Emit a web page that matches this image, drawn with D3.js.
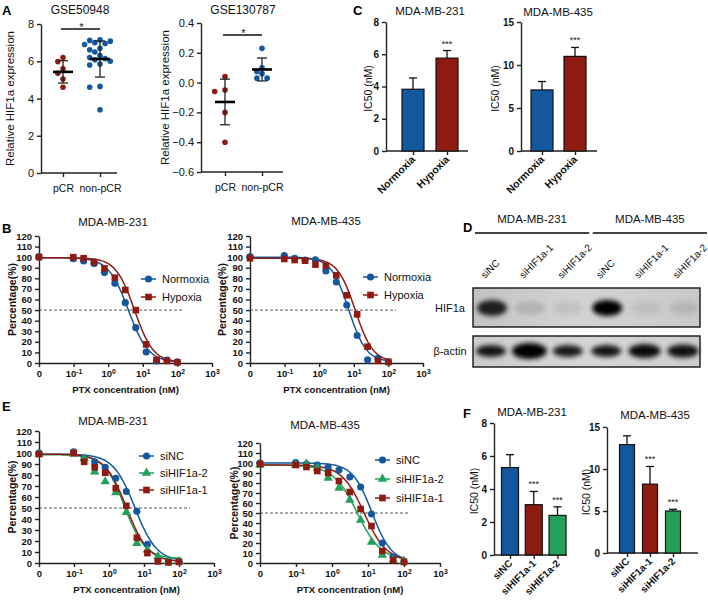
<!DOCTYPE html>
<html><head><meta charset="utf-8">
<script src="https://cdn.jsdelivr.net/npm/d3@7"></script>
<style>body{margin:0;background:#fff;}svg{display:block;}</style>
</head><body><script>
// ================= DATA =================
// Panel A
const groupsA = ["pCR", "non-pCR"];
const gse50948_pCR = [6.2, 5.98, 5.6, 5.35, 5.05, 4.6];
const gse50948_nonpCR = [7.15, 7.12, 7.08, 7.0, 6.95, 6.9, 6.7, 6.62, 6.5, 6.3, 6.2, 6.15, 6.08, 6.0, 5.85, 5.8, 4.65, 4.6, 3.4];
const gse50948_mean = [5.43, 6.12];
const gse50948_sd = [0.6, 0.97];
const gse130787_pCR = [0.04, -0.05, -0.06, -0.2, -0.4];
const gse130787_nonpCR = [0.23, 0.10, 0.075, 0.06, 0.03, 0.03];
const gse130787_mean = [-0.13, 0.088];
const gse130787_sd = [0.153, 0.077];
const ticksA1 = [0, 2, 4, 6, 8];
const ticksA2 = [-0.6, -0.4, -0.2, 0, 0.2, 0.4];

// Panel C
const conditionsC = ["Normoxia", "Hypoxia"];
const ic50_231_C = [3.83, 5.76];
const err_231_C = [0.7, 0.47];
const ic50_435_C = [7.1, 11.0];
const err_435_C = [0.98, 1.04];
const sigC = ["", "***"];
const ticksC231 = [0, 2, 4, 6, 8];
const ticksC435 = [0, 5, 10, 15];

// Panels B, E (dose response, % viability)
const ptxConc = [0, 0.098, 0.195, 0.39, 0.78, 1.56, 3.125, 6.25, 12.5, 25, 50, 100];
const logTicks = [0.01, 0.1, 1, 10, 100, 1000];
const pctTicks = [0, 10, 20, 30, 40, 50, 60, 70, 80, 90, 100, 110, 120];
const b231_normoxia = [100.5, 98.5, 96.4, 93.9, 85.4, 75.3, 57, 33.4, 10.4, 2, 2.8, 1];
const b231_hypoxia  = [100, 100, 99, 95.4, 89.4, 80.6, 69, 50, 17.6, 3, 2, 0.6];
const b435_normoxia = [100.5, 101.5, 98.9, 97.3, 97.5, 87, 76.5, 54.8, 26, 3, 4.4, 1];
const b435_hypoxia  = [99, 98.3, 97.3, 96.7, 93, 92, 82.8, 64, 46, 15.4, 2, 1];
const e231_siNC   = [100, 101, 95, 92, 87, 77, 65, 47, 17, 3, 1.5, 1.5];
const e231_siHIF2 = [99, 99, 95, 83, 74, 64, 46, 18, 12, 6, 1.5, 1.5];
const e231_siHIF1 = [99, 100, 92, 87, 82, 68, 52, 23, 9, 1.5, 0.5, 1];
const e435_siNC   = [100, 100.5, 99, 98, 96, 93, 86, 76, 49, 20, 6, 1];
const e435_siHIF1 = [99, 98, 96, 92, 90, 82, 71, 54, 37, 12, 3, 1];
const e435_siHIF2 = [98, 98, 99, 95, 85, 75, 63, 43, 21, 8, 3, 2];
// nonlinear fit parameters: [top, bottom, IC50 (nM), Hill slope]
const fit_b231_normoxia = [99.5, 0.5, 3.83, 1.5];
const fit_b231_hypoxia  = [99.5, 0.5, 5.76, 1.6];
const fit_b435_normoxia = [100, 1, 7.1, 1.7];
const fit_b435_hypoxia  = [99, 1, 11.0, 1.7];
const fit_e231_siNC   = [99, 1.5, 5.5, 1.4];
const fit_e231_siHIF2 = [98.5, 4, 2.8, 1.5];
const fit_e231_siHIF1 = [99, 1, 3.2, 1.4];
const fit_e435_siNC   = [100, 1, 12.9, 1.6];
const fit_e435_siHIF1 = [98, 2, 7.8, 1.4];
const fit_e435_siHIF2 = [98, 2.5, 5.0, 1.3];

// Panel D (western blot)
const cellLinesD = ["MDA-MB-231", "MDA-MB-435"];
const lanesD = ["siNC", "siHIF1a-1", "siHIF1a-2", "siNC", "siHIF1a-1", "siHIF1a-2"];
const hifIntensity = [0.85, 0.12, 0.08, 1.0, 0.07, 0.1];
const actinIntensity = [0.9, 1.0, 0.88, 0.9, 0.95, 0.92];
const actinThickness = [1.0, 1.35, 1.0, 1.0, 1.15, 1.1];

// Panel F
const groupsF = ["siNC", "siHIF1a-1", "siHIF1a-2"];
const ic50_231_F = [5.3, 3.05, 2.4];
const err_231_F = [0.78, 0.8, 0.52];
const ic50_435_F = [12.9, 8.2, 5.0];
const err_435_F = [1.05, 2.1, 0.2];
const sigF = ["", "***", "***"];

// ================= STYLE =================
const FONT = '"Liberation Sans", Arial, Helvetica, sans-serif';
const BLUE = "#13589c", RED = "#8e1b12", GREEN = "#23a05a", AX = "#222";

const svg = d3.select("body").append("svg")
  .attr("width", 708).attr("height", 601)
  .attr("font-family", FONT);

function styleAxis(g, opt) {
  const o = Object.assign({bold: false, size: 10}, opt || {});
  g.select(".domain").attr("stroke", AX).attr("stroke-width", 1.4);
  g.selectAll(".tick line").attr("stroke", AX).attr("stroke-width", 1.4);
  g.selectAll(".tick text").attr("fill", "#111").attr("font-size", o.size)
    .attr("font-weight", o.bold ? "bold" : "normal").attr("font-family", FONT);
}
function text(g, x, y, s, o) {
  o = o || {};
  const t = g.append("text").attr("x", x).attr("y", y).text(s)
    .attr("font-size", o.size || 11).attr("fill", o.fill || "#111")
    .attr("text-anchor", o.anchor || "middle")
    .attr("font-weight", o.bold ? "bold" : "normal");
  if (o.rotate !== undefined) t.attr("transform", `rotate(${o.rotate},${x},${y})`);
  return t;
}
function panelLetter(x, y, s) { text(svg, x, y, s, {size: 13, bold: true, anchor: "start", fill: "#000"}); }

// ================= PANEL A (scatter) =================
function swarm(values, y, cx, d) {
  const placed = [];
  const order = [0, -1, 1, -2, 2, -3, 3, -4, 4];
  return values.map(v => {
    const py = y(v);
    for (const k of order) {
      const px = cx + k * d * 0.92;
      if (placed.every(p => Math.hypot(p[0] - px, p[1] - py) >= d)) { placed.push([px, py]); return [px, py]; }
    }
    placed.push([cx, py]); return [cx, py];
  });
}
function scatterPanel(o) {
  const g = svg.append("g");
  const y = d3.scaleLinear().domain(o.ydom).range([o.yb, o.yt]);
  const x = d3.scalePoint().domain(groupsA).range([o.c0, o.c1]);
  g.append("g").attr("transform", `translate(${o.ax},0)`)
    .call(d3.axisLeft(y).tickValues(o.ticks).tickFormat(o.fmt).tickSize(4).tickSizeOuter(0))
    .call(styleAxis, {size: 11});
  const xa = g.append("g").attr("transform", `translate(0,${o.yb})`)
    .call(d3.axisBottom(x).tickSize(4).tickSizeOuter(0)).call(styleAxis, {size: 10.5});
  xa.select(".domain").remove();
  xa.selectAll(".tick text").attr("dy", "1.1em");
  g.append("line").attr("x1", o.ax).attr("x2", o.xEnd).attr("y1", o.yb).attr("y2", o.yb)
    .attr("stroke", AX).attr("stroke-width", 1.4);
  const cols = [RED, BLUE];
  o.sets.forEach((vals, gi) => {
    const cx = x(groupsA[gi]);
    const pts = swarm(vals, y, cx, 5.6);
    g.selectAll(null).data(pts).join("circle")
      .attr("cx", p => p[0]).attr("cy", p => p[1]).attr("r", 2.8).attr("fill", cols[gi]);
    const m = o.mean[gi], s = o.sd[gi];
    g.append("line").attr("x1", cx).attr("x2", cx).attr("y1", y(m - s)).attr("y2", y(m + s)).attr("stroke", "#222").attr("stroke-width", 1.3);
    [m - s, m + s].forEach(v => g.append("line").attr("x1", cx - 5).attr("x2", cx + 5).attr("y1", y(v)).attr("y2", y(v)).attr("stroke", "#222").attr("stroke-width", 1.3));
    g.append("line").attr("x1", cx - 10).attr("x2", cx + 10).attr("y1", y(m)).attr("y2", y(m)).attr("stroke", "#000").attr("stroke-width", 2.6);
  });
  g.append("line").attr("x1", x(groupsA[0]) - 2).attr("x2", x(groupsA[1])).attr("y1", o.sigY).attr("y2", o.sigY).attr("stroke", "#111").attr("stroke-width", 1.3);
  text(g, (x(groupsA[0]) + x(groupsA[1])) / 2, o.sigY + 2, "*", {size: 11});
  text(g, o.titleX, 14, o.title, {size: 12});
  text(g, o.labX, (o.yb + o.yt) / 2, "Relative HIF1a expression", {size: 11.5, rotate: -90});
}
scatterPanel({ax: 41, xEnd: 117, c0: 63, c1: 100, yb: 173, yt: 24, ydom: [0, 8], ticks: ticksA1, fmt: d3.format("d"),
  sets: [gse50948_pCR, gse50948_nonpCR], mean: gse50948_mean, sd: gse50948_sd, sigY: 29,
  title: "GSE50948", titleX: 80, labX: 14});
scatterPanel({ax: 201, xEnd: 283, c0: 225, c1: 262, yb: 172, yt: 23, ydom: [-0.6, 0.4], ticks: ticksA2, fmt: d3.format(".1f"),
  sets: [gse130787_pCR, gse130787_nonpCR], mean: gse130787_mean, sd: gse130787_sd, sigY: 35,
  title: "GSE130787", titleX: 243, labX: 169});
panelLetter(2, 15, "A");

// ================= BAR PANELS (C, F) =================
function barPanel(o) {
  const g = svg.append("g");
  const y = d3.scaleLinear().domain([0, o.ymax]).range([o.yb, o.yt]);
  const x = d3.scalePoint().domain(o.groups).range([o.c0, o.c1]);
  g.append("g").attr("transform", `translate(${o.ax},0)`)
    .call(d3.axisLeft(y).tickValues(o.ticks).tickSize(4).tickSizeOuter(0))
    .call(styleAxis, {bold: true, size: 10});
  const xa = g.append("g").attr("transform", `translate(0,${o.yb})`)
    .call(d3.axisBottom(x).tickSize(4).tickSizeOuter(0).tickFormat(""))
    .call(styleAxis);
  xa.select(".domain").remove();
  g.append("line").attr("x1", o.ax).attr("x2", o.xEnd).attr("y1", o.yb).attr("y2", o.yb).attr("stroke", AX).attr("stroke-width", 1.4);
  o.groups.forEach((k, i) => {
    const cx = x(k), v = o.vals[i], e = o.errs[i];
    g.append("line").attr("x1", cx).attr("x2", cx).attr("y1", y(v)).attr("y2", y(v + e)).attr("stroke", "#111").attr("stroke-width", 1.3);
    g.append("line").attr("x1", cx - 4).attr("x2", cx + 4).attr("y1", y(v + e)).attr("y2", y(v + e)).attr("stroke", "#111").attr("stroke-width", 1.3);
    g.append("rect").attr("x", cx - o.bw / 2).attr("y", y(v)).attr("width", o.bw).attr("height", o.yb - y(v))
      .attr("fill", o.colors[i]).attr("stroke", "#111").attr("stroke-width", 1.2);
    if (o.sig[i]) text(g, cx, y(v + e) - 4, o.sig[i], {size: 9});
    text(g, cx + 3, o.yb + 9, k, {size: o.labSize, bold: true, anchor: "end", rotate: -45});
  });
  text(g, o.titleX, o.titleY, o.title, {size: 11.5});
  text(g, o.labX, (o.yb + o.yt) / 2 + 2, "IC50 (nM)", {size: 10.5, rotate: -90});
}
barPanel({groups: conditionsC, vals: ic50_231_C, errs: err_231_C, sig: sigC, colors: [BLUE, RED],
  ax: 386, xEnd: 468, c0: 413, c1: 447, bw: 22, yb: 151, yt: 22, ymax: 8, ticks: ticksC231,
  title: "MDA-MB-231", titleX: 430, titleY: 15, labX: 372, labSize: 10.5});
barPanel({groups: conditionsC, vals: ic50_435_C, errs: err_435_C, sig: sigC, colors: [BLUE, RED],
  ax: 521, xEnd: 597, c0: 542, c1: 575, bw: 22, yb: 151, yt: 22, ymax: 15, ticks: ticksC435,
  title: "MDA-MB-435", titleX: 558, titleY: 16, labX: 499, labSize: 10.5});
panelLetter(353, 15, "C");

barPanel({groups: groupsF, vals: ic50_231_F, errs: err_231_F, sig: sigF, colors: [BLUE, RED, GREEN],
  ax: 494, xEnd: 567, c0: 510, c1: 557.5, bw: 17, yb: 555, yt: 423, ymax: 8, ticks: ticksC231,
  title: "MDA-MB-231", titleX: 532, titleY: 416, labX: 478, labSize: 10});
barPanel({groups: groupsF, vals: ic50_435_F, errs: err_435_F, sig: sigF, colors: [BLUE, RED, GREEN],
  ax: 607, xEnd: 698, c0: 627, c1: 673, bw: 15, yb: 553, yt: 427, ymax: 15, ticks: ticksC435,
  title: "MDA-MB-435", titleX: 655, titleY: 419, labX: 590, labSize: 10});
panelLetter(463, 418, "F");

// ================= DOSE-RESPONSE PANELS (B, E) =================
function logLabels(g) {
  g.selectAll(".tick text").each(function (d) {
    const t = d3.select(this); t.text(null);
    if (d <= 0.01) { t.text("0"); return; }
    const e = Math.round(Math.log10(d));
    t.append("tspan").text("10");
    t.append("tspan").attr("dy", "-0.45em").attr("font-size", "0.72em").text(e);
  });
}
function dosePanel(o) {
  const g = svg.append("g");
  const x = d3.scaleLog().domain([0.01, 1000]).range([o.x0, o.x1]);
  const y = d3.scaleLinear().domain([0, 120]).range([o.yb, o.yt]);
  const xc = c => x(Math.max(c, 0.01));
  g.append("line").attr("x1", o.x0).attr("x2", o.dashEnd).attr("y1", y(50)).attr("y2", y(50))
    .attr("stroke", "#555").attr("stroke-dasharray", "3,2").attr("stroke-width", 1);
  g.append("g").attr("transform", `translate(${o.x0},0)`)
    .call(d3.axisLeft(y).tickValues(pctTicks).tickSize(4).tickSizeOuter(0))
    .call(styleAxis, {bold: true, size: 9.5});
  g.append("g").attr("transform", `translate(0,${o.yb})`)
    .call(d3.axisBottom(x).tickValues(logTicks).tickSize(4).tickSizeOuter(0))
    .call(styleAxis, {bold: true, size: 9.5}).call(logLabels);
  o.series.forEach(s => {
    const [top, bot, ic, h] = s.fit;
    const xs = d3.range(-2, 2.06, 0.02).map(e => Math.pow(10, e));
    const line = d3.line().x(c => x(c)).y(c => y(bot + (top - bot) / (1 + Math.pow(c / ic, h))));
    g.append("path").datum(xs).attr("d", line).attr("fill", "none").attr("stroke", s.color).attr("stroke-width", 1.5);
  });
  o.series.forEach(s => {
    g.selectAll(null).data(s.values).join("path")
      .attr("transform", (v, i) => `translate(${xc(ptxConc[i])},${y(v)})`)
      .attr("d", d3.symbol().type(s.shape).size(s.size)).attr("fill", s.color);
  });
  o.legend.forEach((s, i) => {
    const ly = o.legY[i];
    g.append("line").attr("x1", o.legX).attr("x2", o.legX + 15).attr("y1", ly).attr("y2", ly).attr("stroke", s.color).attr("stroke-width", 1.5);
    g.append("path").attr("transform", `translate(${o.legX + 7.5},${ly})`).attr("d", d3.symbol().type(s.shape).size(s.size)).attr("fill", s.color);
    text(g, o.legX + 21, ly + 4, s.name, {size: 11, anchor: "start"});
  });
  text(g, o.titleX, o.titleY, o.title, {size: 11.5});
  text(g, o.labX, (o.yb + o.yt) / 2, "Percentage(%)", {size: 10.5, bold: true, rotate: -90});
  text(g, (o.x0 + o.x1) / 2, o.yb + 30, "PTX concentration (nM)", {size: 9.5, bold: true});
}
const sCirc = {shape: d3.symbolCircle, size: 40};
const sSq = {shape: d3.symbolSquare, size: 44};
const sTri = {shape: d3.symbolTriangle, size: 38};
const norm231 = Object.assign({name: "Normoxia", color: BLUE, values: b231_normoxia, fit: fit_b231_normoxia}, sCirc);
const hyp231 = Object.assign({name: "Hypoxia", color: RED, values: b231_hypoxia, fit: fit_b231_hypoxia}, sSq);
const norm435 = Object.assign({name: "Normoxia", color: BLUE, values: b435_normoxia, fit: fit_b435_normoxia}, sCirc);
const hyp435 = Object.assign({name: "Hypoxia", color: RED, values: b435_hypoxia, fit: fit_b435_hypoxia}, sSq);
dosePanel({x0: 39, x1: 212, yb: 363, yt: 236, dashEnd: 183, series: [norm231, hyp231], legend: [norm231, hyp231],
  legX: 141, legY: [279, 297], title: "MDA-MB-231", titleX: 113, titleY: 226, labX: 16});
dosePanel({x0: 250, x1: 423, yb: 363, yt: 236, dashEnd: 396, series: [norm435, hyp435], legend: [norm435, hyp435],
  legX: 363, legY: [277, 295], title: "MDA-MB-435", titleX: 326, titleY: 225, labX: 226});
panelLetter(2, 233, "B");

const nc231 = Object.assign({name: "siNC", color: BLUE, values: e231_siNC, fit: fit_e231_siNC}, sCirc);
const h2_231 = Object.assign({name: "siHIF1a-2", color: GREEN, values: e231_siHIF2, fit: fit_e231_siHIF2}, sTri);
const h1_231 = Object.assign({name: "siHIF1a-1", color: RED, values: e231_siHIF1, fit: fit_e231_siHIF1}, sSq);
const nc435 = Object.assign({name: "siNC", color: BLUE, values: e435_siNC, fit: fit_e435_siNC}, sCirc);
const h2_435 = Object.assign({name: "siHIF1a-2", color: GREEN, values: e435_siHIF2, fit: fit_e435_siHIF2}, sTri);
const h1_435 = Object.assign({name: "siHIF1a-1", color: RED, values: e435_siHIF1, fit: fit_e435_siHIF1}, sSq);
dosePanel({x0: 39, x1: 214, yb: 563, yt: 431, dashEnd: 190, series: [nc231, h2_231, h1_231], legend: [nc231, h2_231, h1_231],
  legX: 139, legY: [456, 473, 490], title: "MDA-MB-231", titleX: 113, titleY: 425, labX: 16});
dosePanel({x0: 260, x1: 440, yb: 563, yt: 443, dashEnd: 410, series: [nc435, h2_435, h1_435], legend: [nc435, h2_435, h1_435],
  legX: 375, legY: [460, 479, 498], title: "MDA-MB-435", titleX: 325, titleY: 429, labX: 238});
panelLetter(2, 411, "E");

// ================= PANEL D (western blot) =================
(function () {
  const g = svg.append("g");
  const defs = svg.append("defs");
  const f = defs.append("filter").attr("id", "blur").attr("x", "-60%").attr("y", "-80%").attr("width", "220%").attr("height", "260%");
  f.append("feGaussianBlur").attr("stdDeviation", 2.4);
  const gr = defs.append("linearGradient").attr("id", "bg1");
  [["0%", "#c2c2c2"], ["45%", "#d3d3d3"], ["100%", "#c9c9c9"]].forEach(s => gr.append("stop").attr("offset", s[0]).attr("stop-color", s[1]));
  const gr2 = defs.append("linearGradient").attr("id", "bg2");
  [["0%", "#cbcbcb"], ["50%", "#d6d6d6"], ["100%", "#cdcdcd"]].forEach(s => gr2.append("stop").attr("offset", s[0]).attr("stop-color", s[1]));

  const lx = d3.scalePoint().domain(d3.range(lanesD.length)).range([491, 683]);
  const cl = d3.scaleBand().domain(cellLinesD).range([475, 707]).paddingInner(0.03);
  cellLinesD.forEach(c => {
    text(g, cl(c) + cl.bandwidth() / 2, 223, c, {size: 11.5});
    g.append("line").attr("x1", cl(c)).attr("x2", cl(c) + cl.bandwidth()).attr("y1", 233).attr("y2", 233).attr("stroke", "#444").attr("stroke-width", 1.8);
  });
  lanesD.forEach((l, i) => text(g, lx(i) - 6, 279, l, {size: 10, anchor: "start", rotate: -45}));

  const box1 = {y: 288, h: 39}, box2 = {y: 336, h: 31};
  g.append("rect").attr("x", 473).attr("y", box1.y).attr("width", 227).attr("height", box1.h).attr("fill", "url(#bg1)");
  g.append("rect").attr("x", 473).attr("y", box2.y).attr("width", 227).attr("height", box2.h).attr("fill", "url(#bg2)");
  const bands = g.append("g").attr("filter", "url(#blur)");
  hifIntensity.forEach((v, i) => {
    bands.append("ellipse").attr("cx", lx(i) + 1).attr("cy", 308).attr("rx", 15).attr("ry", v > 0.5 ? 8 : 7)
      .attr("fill", "#000").attr("fill-opacity", v);
  });
  actinIntensity.forEach((v, i) => {
    bands.append("ellipse").attr("cx", lx(i)).attr("cy", 351).attr("rx", 15 * Math.sqrt(actinThickness[i]))
      .attr("ry", 6 * actinThickness[i]).attr("fill", "#000").attr("fill-opacity", v);
  });
  g.append("rect").attr("x", 473).attr("y", box1.y).attr("width", 227).attr("height", box1.h).attr("fill", "none").attr("stroke", "#222").attr("stroke-width", 1.5);
  g.append("rect").attr("x", 473).attr("y", box2.y).attr("width", 227).attr("height", box2.h).attr("fill", "none").attr("stroke", "#222").attr("stroke-width", 1.5);
  text(g, 450, 312, "HIF1a", {size: 11});
  text(g, 450, 355, "β-actin", {size: 11});
})();
panelLetter(463, 232, "D");
</script></body></html>
